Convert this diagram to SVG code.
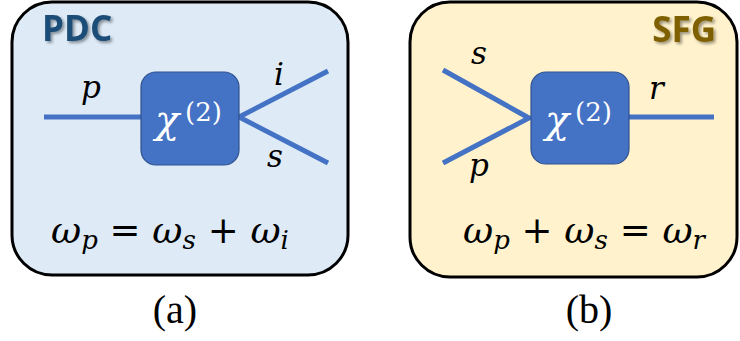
<svg xmlns="http://www.w3.org/2000/svg" width="740" height="341" viewBox="0 0 740 341">
<defs>
<style>
.panel{stroke:#000;stroke-width:3}
.beam{stroke:#4472C4;stroke-width:5;fill:none;stroke-linecap:butt}
.chi{fill:#4472C4;stroke:#2F528F;stroke-width:1.2}
.m{font-family:"DejaVu Serif","Liberation Serif",serif;font-style:italic;fill:#000}
.chit{font-family:"DejaVu Serif","Liberation Serif",serif;fill:#fff}
.cap{font-family:"Liberation Serif","Times New Roman",serif;font-size:40px;fill:#000}
.title{font-family:"Open Sans","Liberation Sans",sans-serif;font-weight:bold;font-size:35px}
</style>
<filter id="sh" x="-20%" y="-20%" width="140%" height="140%">
<feGaussianBlur in="SourceAlpha" stdDeviation="1.5"/>
<feOffset dx="1.5" dy="1.5" result="b"/>
<feComponentTransfer><feFuncA type="linear" slope="0.4"/></feComponentTransfer>
<feMerge><feMergeNode/><feMergeNode in="SourceGraphic"/></feMerge>
</filter>
</defs>

<g id="panel-a">
<rect class="panel" x="12" y="2" width="336" height="273" rx="40" fill="#DEEBF7"/>
<text class="title" x="42" y="41" fill="#1F4E79" filter="url(#sh)">PDC</text>
</g>
<g id="panel-b">
<rect class="panel" x="410" y="2" width="327" height="275" rx="40" fill="#FFF2CC"/>
<text class="title" x="716" y="42" text-anchor="end" fill="#7F6000" filter="url(#sh)">SFG</text>
</g>

<g id="connectors">
<line class="beam" x1="44" y1="117" x2="141" y2="117"/>
<polyline class="beam" points="328,71 239,117 328,163"/>
<polyline class="beam" points="443,70 529,118 443,163"/>
<line class="beam" x1="629" y1="117" x2="714" y2="117"/>
</g>

<g id="chi-a">
<rect class="chi" x="141" y="72" width="98" height="93" rx="15"/>
<text class="chit"><tspan x="155" y="133" font-style="italic" font-size="40">χ</tspan><tspan x="185" y="121" font-size="26">(2)</tspan></text>
</g>
<g id="chi-b">
<rect class="chi" x="531" y="72" width="98" height="92" rx="15"/>
<text class="chit"><tspan x="545" y="133" font-style="italic" font-size="40">χ</tspan><tspan x="575" y="121" font-size="26">(2)</tspan></text>
</g>

<g id="labels-a">
<text class="m" x="81" y="98" font-size="31">p</text>
<text class="m" x="274" y="85" font-size="31">i</text>
<text class="m" x="267" y="167" font-size="31">s</text>
</g>
<g id="labels-b">
<text class="m" x="471" y="64" font-size="31">s</text>
<text class="m" x="469" y="176" font-size="31">p</text>
<text class="m" x="649" y="99" font-size="31">r</text>
</g>

<g id="eq-a">
<text class="m" x="51" y="243" font-size="37">ω<tspan font-size="26" dy="6">p</tspan><tspan font-style="normal" dy="-6"> = </tspan>ω<tspan font-size="26" dy="6">s</tspan><tspan font-style="normal" dy="-6"> + </tspan>ω<tspan font-size="26" dy="6">i</tspan></text>
</g>
<g id="eq-b">
<text class="m" x="463" y="243" font-size="37">ω<tspan font-size="26" dy="6">p</tspan><tspan font-style="normal" dy="-6"> + </tspan>ω<tspan font-size="26" dy="6">s</tspan><tspan font-style="normal" dy="-6"> = </tspan>ω<tspan font-size="26" dy="6">r</tspan></text>
</g>

<text class="cap" x="175" y="323" text-anchor="middle">(a)</text>
<text class="cap" x="589" y="323" text-anchor="middle">(b)</text>
</svg>
